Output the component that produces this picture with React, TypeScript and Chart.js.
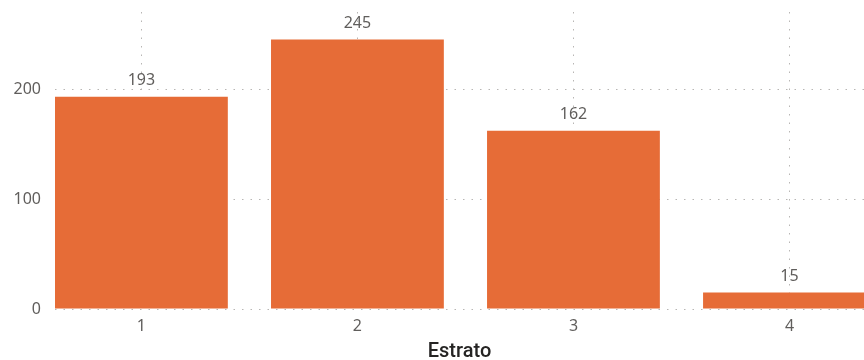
import React, { useEffect, useRef } from 'react';
import { Chart, registerables } from 'chart.js';

Chart.register(...registerables);

const categories = [1, 2, 3, 4];
const values = [193, 245, 162, 15];
const yTicks = [0, 100, 200];
const xAxisTitle = 'Estrato';

const BAR_COLOR = '#E66C37';
const GRID_COLOR = '#B8B6B4';
const TEXT_COLOR = '#605E5C';
const FONT = '"Noto Sans", "Open Sans", sans-serif';

export default function App() {
  const ref = useRef<HTMLCanvasElement | null>(null);

  useEffect(() => {
    document.body.style.margin = '0';
    const labelPlugin = {
      id: 'barLabels',
      afterDatasetsDraw(chart: any) {
        const ctx = chart.ctx;
        const meta = chart.getDatasetMeta(0);
        ctx.save();
        ctx.font = `16px ${FONT}`;
        ctx.fillStyle = TEXT_COLOR;
        ctx.textAlign = 'center';
        ctx.textBaseline = 'alphabetic';
        meta.data.forEach((el: any, i: number) => {
          ctx.fillText(String(values[i]), el.x, el.y - 12);
        });
        ctx.restore();
      },
    };

    const chart = new Chart(ref.current as HTMLCanvasElement, {
      type: 'bar',
      data: {
        datasets: [
          {
            data: categories.map((c, i) => ({ x: c, y: values[i] })),
            backgroundColor: BAR_COLOR,
            borderWidth: 0,
            barPercentage: 0.8,
            categoryPercentage: 1,
          },
        ],
      },
      options: {
        animation: false,
        responsive: false,
        maintainAspectRatio: false,
        layout: { padding: { top: 12, left: 0, right: 0, bottom: 0 } },
        plugins: { legend: { display: false }, tooltip: { enabled: false } },
        scales: {
          x: {
            type: 'linear',
            min: 0.6,
            max: 4.345,
            offset: false,
            afterBuildTicks: (s: any) => {
              s.ticks = categories.map((v) => ({ value: v }));
            },
            afterFit: (s: any) => {
              s.height = 51;
              s.paddingLeft = 0;
              s.paddingRight = 0;
            },
            grid: { offset: false, color: GRID_COLOR, lineWidth: 1, drawTicks: false },
            border: { display: false, dash: [1.5, 7] },
            ticks: {
              padding: 8,
              color: TEXT_COLOR,
              font: { family: FONT, size: 16 },
              callback: (v: any) => String(v),
            },
            title: {
              display: true,
              text: xAxisTitle,
              color: '#252423',
              font: { family: 'Roboto, sans-serif', size: 20, weight: '500', lineHeight: 0.8 },
              padding: { top: 0, bottom: 0 },
            },
          },
          y: {
            type: 'linear',
            min: 0,
            max: 270,
            afterBuildTicks: (s: any) => {
              s.ticks = yTicks.map((v) => ({ value: v }));
            },
            afterFit: (s: any) => {
              s.width = 55;
              s.paddingTop = 0;
              s.paddingBottom = 0;
            },
            grid: { color: GRID_COLOR, lineWidth: 1, drawTicks: false },
            border: { display: false, dash: [1.5, 7] },
            ticks: {
              padding: 14,
              color: TEXT_COLOR,
              font: { family: FONT, size: 16 },
            },
          },
        },
      },
      plugins: [labelPlugin],
    } as any);

    return () => chart.destroy();
  }, []);

  return (
    <div style={{ width: 864, height: 360 }}>
      <canvas ref={ref} width={864} height={360} />
    </div>
  );
}
